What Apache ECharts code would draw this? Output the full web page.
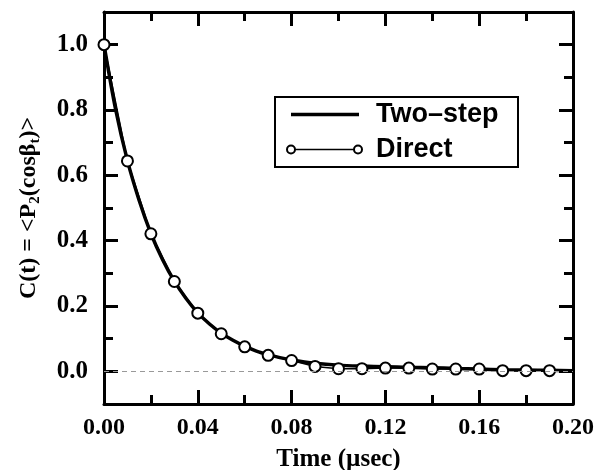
<!DOCTYPE html>
<html>
<head>
<meta charset="utf-8">
<script src="https://cdn.jsdelivr.net/npm/echarts@6/dist/echarts.min.js"></script>
<style>
  html, body { margin: 0; padding: 0; background: #fff; }
  #chart { width: 595px; height: 470px; }
</style>
</head>
<body>
<div id="chart"></div>
<script>
// Orientational correlation function C(t) = <P2(cos beta_t)>
const directTime = [0.00, 0.01, 0.02, 0.03, 0.04, 0.05, 0.06, 0.07, 0.08, 0.09,
                    0.10, 0.11, 0.12, 0.13, 0.14, 0.15, 0.16, 0.17, 0.18, 0.19];
const directC = [1.000, 0.644, 0.421, 0.275, 0.178, 0.115, 0.075, 0.049, 0.033, 0.015,
                 0.008, 0.008, 0.010, 0.010, 0.007, 0.007, 0.007, 0.002, 0.002, 0.002];

const twoStepTime = [0.000, 0.005, 0.010, 0.015, 0.020, 0.025, 0.030, 0.035, 0.040, 0.045,
                     0.050, 0.055, 0.060, 0.065, 0.070, 0.075, 0.080, 0.090, 0.100, 0.110,
                     0.120, 0.130, 0.140, 0.150, 0.160, 0.170, 0.180, 0.190, 0.200];
const twoStepC = [1.000, 0.800, 0.645, 0.523, 0.422, 0.342, 0.276, 0.223, 0.179, 0.145,
                  0.117, 0.095, 0.077, 0.062, 0.051, 0.042, 0.035, 0.025, 0.019, 0.016,
                  0.014, 0.012, 0.011, 0.009, 0.007, 0.005, 0.004, 0.003, 0.002];

const yMajorTicks = [0.0, 0.2, 0.4, 0.6, 0.8, 1.0];
const yMinorTicks = [0.1, 0.3, 0.5, 0.7, 0.9];

const seriesNames = ['Two\u2013step', 'Direct'];

const serif = '"Liberation Serif", "Times New Roman", serif';
const sans = '"Liberation Sans", Arial, sans-serif';

const pair = (xs, ys) => xs.map((x, i) => [x, ys[i]]);

const axisLineStyle = { show: true, onZero: false, lineStyle: { color: '#000', width: 3 } };
const noAxisLine = { show: false, onZero: false };
const tickStyle = { color: '#000', width: 3 };

function xAxisBase(position, withLabels) {
  return {
    type: 'value', position: position, min: 0, max: 0.2, interval: 0.04,
    axisLine: axisLineStyle,
    axisTick: { show: true, inside: true, length: 14, lineStyle: tickStyle },
    minorTick: { show: true, splitNumber: 2, length: 9, lineStyle: tickStyle },
    splitLine: { show: false }, minorSplitLine: { show: false },
    axisLabel: withLabels ? {
      show: true, margin: 12, color: '#000', fontFamily: serif, fontWeight: 'bold', fontSize: 24,
      formatter: v => v.toFixed(2)
    } : { show: false }
  };
}

function yAxisBase(position, ticks, len, withLine, withLabels) {
  return {
    type: 'value', position: position, min: -0.1, max: 1.1,
    axisLine: withLine ? axisLineStyle : noAxisLine,
    axisTick: { show: true, inside: true, length: len, lineStyle: tickStyle, customValues: ticks },
    splitLine: { show: false },
    axisLabel: withLabels ? {
      show: true, margin: 16, color: '#000', fontFamily: serif, fontWeight: 'bold', fontSize: 25,
      customValues: ticks, formatter: v => v.toFixed(1)
    } : { show: false }
  };
}

const chart = echarts.init(document.getElementById('chart'), null, { renderer: 'canvas' });

const xBottom = xAxisBase('bottom', true);
xBottom.name = 'Time (\u00b5sec)';
xBottom.nameLocation = 'middle';
xBottom.nameGap = 43;
xBottom.nameTextStyle = { color: '#000', fontFamily: serif, fontWeight: 'bold', fontSize: 25 };

const yLeft = yAxisBase('left', yMajorTicks, 14, true, true);
yLeft.name = '{n|C(t) = <P}{s|2}{n|(cos\u03b2}{s|t}{n|)>}';
yLeft.nameLocation = 'middle';
yLeft.nameGap = 61;
yLeft.nameTextStyle = {
  rich: {
    n: { fontFamily: serif, fontWeight: 'bold', fontSize: 24, lineHeight: 28, color: '#000' },
    s: { fontFamily: serif, fontWeight: 'bold', fontSize: 15, lineHeight: 15, verticalAlign: 'bottom', color: '#000' }
  }
};

chart.setOption({
  animation: false,
  backgroundColor: '#fff',
  grid: { left: 104, top: 12, right: 22, bottom: 66, containLabel: false, outerBoundsMode: 'none' },
  xAxis: [xBottom, xAxisBase('top', false)],
  yAxis: [
    yLeft,
    yAxisBase('left', yMinorTicks, 9, false, false),
    yAxisBase('right', yMajorTicks, 14, true, false),
    yAxisBase('right', yMinorTicks, 9, false, false)
  ],
  series: [
    {
      name: seriesNames[0], type: 'line', xAxisIndex: 0, yAxisIndex: 0,
      data: pair(twoStepTime, twoStepC), smooth: 0.3, showSymbol: false,
      lineStyle: { color: '#000', width: 3.5 },
      z: 3,
      markLine: {
        silent: true, symbol: 'none', label: { show: false },
        lineStyle: { color: '#999', width: 1, type: [5, 4] },
        data: [{ yAxis: 0 }]
      }
    },
    {
      name: seriesNames[1], type: 'line', xAxisIndex: 0, yAxisIndex: 0,
      data: pair(directTime, directC), symbol: 'circle', symbolSize: 11,
      lineStyle: { color: '#000', width: 1.5 },
      itemStyle: { color: '#fff', borderColor: '#000', borderWidth: 2 },
      z: 4
    }
  ],
  graphic: [
    {
      type: 'group', left: 274, top: 96, z: 10,
      children: [
        { type: 'rect', shape: { x: 0, y: 0, width: 243, height: 70 },
          style: { fill: '#fff', stroke: '#000', lineWidth: 2 } },
        { type: 'line', shape: { x1: 16, y1: 17.5, x2: 84, y2: 17.5 },
          style: { stroke: '#000', lineWidth: 3.5 } },
        { type: 'text', x: 101, y: 17.5,
          style: { text: seriesNames[0], fill: '#000', font: 'bold 27px ' + sans, verticalAlign: 'middle' } },
        { type: 'line', shape: { x1: 16, y1: 52.5, x2: 83, y2: 52.5 },
          style: { stroke: '#000', lineWidth: 1.5 } },
        { type: 'circle', shape: { cx: 16, cy: 52.5, r: 4 },
          style: { fill: '#fff', stroke: '#000', lineWidth: 2 } },
        { type: 'circle', shape: { cx: 83, cy: 52.5, r: 4 },
          style: { fill: '#fff', stroke: '#000', lineWidth: 2 } },
        { type: 'text', x: 101, y: 52.5,
          style: { text: seriesNames[1], fill: '#000', font: 'bold 27px ' + sans, verticalAlign: 'middle' } }
      ]
    }
  ]
});
</script>
</body>
</html>
